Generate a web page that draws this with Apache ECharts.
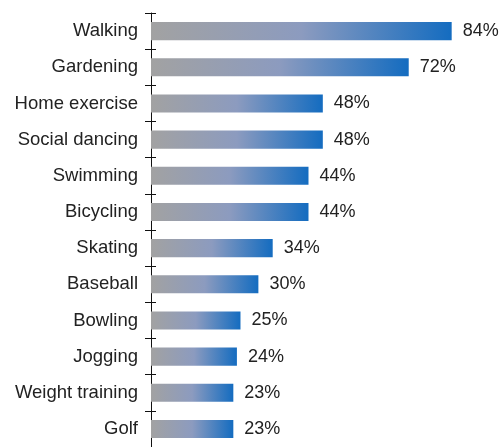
<!DOCTYPE html>
<html>
<head>
<meta charset="utf-8">
<script src="https://cdn.jsdelivr.net/npm/echarts@6/dist/echarts.min.js"></script>
<style>html,body{margin:0;padding:0;background:#fff}#c{width:500px;height:447px}</style>
</head>
<body>
<div id="c"></div>
<script>
const categories = ["Walking","Gardening","Home exercise","Social dancing","Swimming","Bicycling","Skating","Baseball","Bowling","Jogging","Weight training","Golf"];
const values = [84,72,48,48,44,44,34,30,25,24,23,23];

const chart = echarts.init(document.getElementById('c'));
const font = 'Liberation Sans, Arial, sans-serif';
chart.setOption({
  animation: false,
  grid: {left: 151, right: 0, top: 13, bottom: -4, containLabel: false},
  xAxis: {type: 'value', min: 0, max: 97.5, show: false},
  yAxis: [{
    type: 'category', data: categories, inverse: true, position: 'left',
    axisLine: {show: true, lineStyle: {color: '#111', width: 1}},
    axisTick: {show: true, length: 6, lineStyle: {color: '#111'}},
    axisLabel: {color: '#222', fontSize: 18.5, fontFamily: font, margin: 13}
  }, {
    type: 'category', data: categories, inverse: true, position: 'left',
    axisLine: {show: false},
    axisTick: {show: true, inside: true, length: 5, lineStyle: {color: '#111'}},
    axisLabel: {show: false}
  }],
  series: [{
    type: 'bar', data: values, barWidth: '50%',
    itemStyle: {color: new echarts.graphic.LinearGradient(0,0,1,0,[
      {offset: 0, color: '#a2a2a2'},
      {offset: 0.5, color: '#8c9bbf'},
      {offset: 1, color: '#146cc0'}
    ])},
    label: {show: true, position: 'right', distance: 11, formatter: '{c}%', color: '#222', fontSize: 18, fontFamily: font}
  }]
});
</script>
</body>
</html>
